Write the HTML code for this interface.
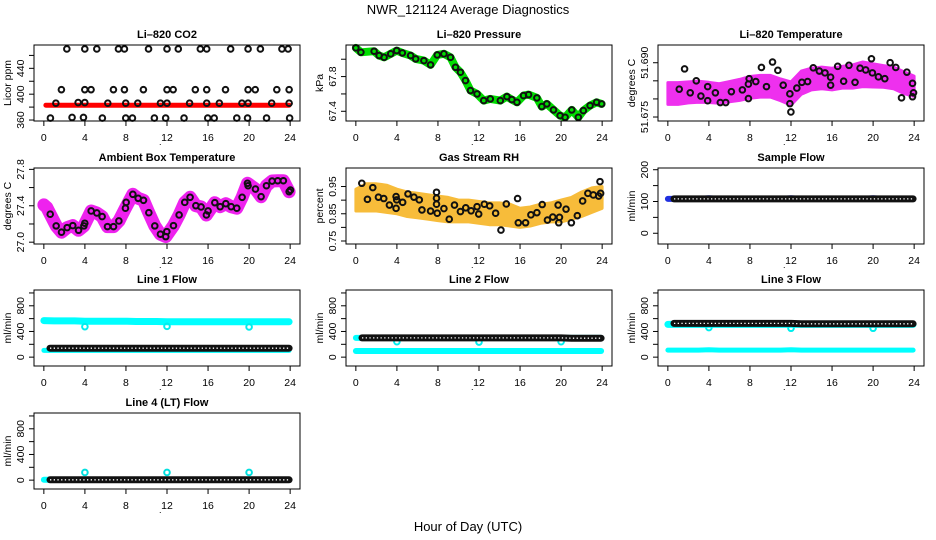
<!DOCTYPE html>
<html><head><meta charset="utf-8">
<style>
html,body{margin:0;padding:0;background:#fff;}
svg{display:block;font-family:"Liberation Sans",sans-serif;}
</style></head>
<body>
<svg id="chart" width="936" height="540" viewBox="0 0 936 540" xmlns="http://www.w3.org/2000/svg">
<text x="468" y="14" text-anchor="middle" font-size="13">NWR_121124  Average Diagnostics</text>
<text x="468" y="531" text-anchor="middle" font-size="13">Hour of Day (UTC)</text>
</svg>
<script>
// ---------- data ----------
const xTicks = [0,4,8,12,16,20,24];
// CO2
const co2Hours = [2.24,3.99,5.16,7.27,7.85,10.2,12.0,13.1,15.25,15.87,18.2,19.9,21.1,23.2,23.8,
 1.71,3.99,4.6,6.78,7.85,9.7,12.0,12.6,14.76,15.87,17.7,19.9,20.6,22.7,23.9,
 1.17,3.34,3.99,6.23,7.98,9.15,11.36,12.0,14.2,15.87,17.1,19.3,19.9,22.2,23.9,
 0.64,2.75,3.86,5.7,7.98,8.63,10.77,11.87,13.66,15.97,16.6,18.8,19.85,21.7,23.95];
const co2Vals = [470,470,470,470,470,470,470,470,470,470,470,470,470,470,470,
 407,407,407,407,407,407,407,407,407,407,407,407,407,407,407,
 386,387,387,386,386,386,386,386,386,386,386,386,386,386,386,
 363,364,364,363,363,363,363,363,363,363,363,363,363,363,363];
const co2BandHours = [0.2,2,4,6,8,10,12,14,16,18,20,22,23.9];
const co2BandVals = [383,383,383,383,383,383,383,383,383,383,383,383,383];
// Pressure
const presHours = [0,0.49,1.78,2.27,2.75,3.4,3.98,4.53,5.34,5.83,6.63,7.28,7.93,8.58,9.22,9.71,10.19,10.68,11.17,11.81,12.46,13.1,14.08,14.72,15.2,15.7,16.34,16.83,17.64,18.12,18.61,19.26,19.9,20.39,21.04,21.68,22.17,22.82,23.46,23.95];
const presVals = [68.131,68.080,68.092,68.042,68.022,68.062,68.100,68.073,68.042,68.004,67.984,67.935,68.050,68.062,68.022,67.907,67.850,67.754,67.639,67.600,67.523,67.543,67.523,67.569,67.535,67.504,67.581,67.592,67.554,67.454,67.485,67.416,67.350,67.331,67.416,67.331,67.408,67.466,67.504,67.485];
// Li-820 temperature
const ltHours = [1.63,1.11,2.18,2.77,3.22,3.88,3.88,4.63,5.11,5.64,6.19,7.26,7.85,7.85,7.92,8.57,9.12,9.61,10.2,10.72,11.24,11.89,11.89,11.99,12.57,13.06,13.62,14.17,14.76,15.31,15.86,15.86,16.55,17.13,17.65,18.24,18.73,19.28,19.84,19.93,20.52,21.14,21.66,22.21,22.77,23.29,23.84,23.94,23.84];
const ltVals = [51.6883,51.6827,51.6817,51.6850,51.6808,51.6795,51.6834,51.6817,51.6790,51.6790,51.6820,51.6825,51.6801,51.6841,51.6856,51.6848,51.6887,51.6834,51.6902,51.6879,51.6838,51.6814,51.6787,51.6764,51.6830,51.6846,51.6848,51.6886,51.6877,51.6872,51.6860,51.6838,51.6890,51.6849,51.6893,51.6846,51.6885,51.6880,51.6911,51.6872,51.6861,51.6856,51.6900,51.6887,51.6803,51.6874,51.6843,51.6817,51.6806];
const ltBandHours = [0,1,2,3,4,5,6,7,8,9,10,11,12,13,14,15,16,17,18,19,20,21,22,23,24];
const ltBandMid = [51.6815,51.6815,51.6818,51.6820,51.6818,51.6815,51.6820,51.6825,51.6832,51.6835,51.6835,51.6825,51.6815,51.6845,51.6855,51.6858,51.6855,51.6860,51.6862,51.6868,51.6865,51.6862,51.6858,51.6845,51.6835];
const ltBandHalf = [0.0030,0.0030,0.0029,0.0029,0.0028,0.0027,0.0028,0.0029,0.0030,0.0030,0.0030,0.0030,0.0032,0.0032,0.0030,0.0030,0.0030,0.0030,0.0032,0.0034,0.0032,0.0030,0.0030,0.0030,0.0028];
// Ambient box temperature
const abHours = [0.62,1.20,1.72,2.27,2.82,3.38,3.90,3.99,4.61,5.16,5.68,6.2,6.79,7.31,7.95,8.02,8.67,9.19,9.71,10.23,10.81,11.36,11.88,11.98,12.63,13.18,13.73,14.25,14.81,15.32,15.84,16.0,16.66,17.18,17.73,18.25,18.8,19.32,19.84,19.9,20.62,21.17,21.69,22.24,22.79,23.34,23.9,24.03];
const abVals = [27.307,27.179,27.110,27.160,27.182,27.131,27.179,27.208,27.343,27.321,27.281,27.171,27.171,27.233,27.373,27.438,27.526,27.482,27.460,27.324,27.179,27.088,27.061,27.116,27.182,27.299,27.438,27.493,27.401,27.387,27.299,27.343,27.434,27.390,27.423,27.390,27.373,27.493,27.647,27.620,27.584,27.500,27.620,27.672,27.675,27.675,27.555,27.573];
const abBandHours = [0,0.3,0.62,1.20,1.72,2.27,2.82,3.38,3.90,4.61,5.16,5.68,6.2,6.79,7.31,7.95,8.67,9.19,9.71,10.23,10.81,11.36,11.88,12.63,13.18,13.73,14.25,14.81,15.32,15.84,16.66,17.18,17.73,18.25,18.8,19.32,19.84,20.62,21.17,21.69,22.24,22.79,23.34,23.9];
const abBandVals = [27.41,27.38,27.307,27.179,27.110,27.160,27.182,27.131,27.179,27.343,27.321,27.281,27.171,27.171,27.233,27.373,27.526,27.482,27.460,27.324,27.179,27.088,27.061,27.182,27.299,27.438,27.493,27.401,27.387,27.299,27.434,27.390,27.423,27.390,27.373,27.493,27.647,27.584,27.500,27.620,27.672,27.675,27.675,27.555];
// Gas stream RH
const rhHours = [0.58,1.13,1.65,2.2,2.72,3.27,3.92,3.98,3.92,4.56,5.08,5.66,6.18,6.44,7.28,7.86,7.86,7.86,7.93,8.58,9.1,9.61,10.19,10.71,11.23,11.81,11.97,12.52,13.04,13.62,14.14,14.66,15.76,15.83,16.54,17.06,17.64,18.16,18.67,19.19,19.71,19.77,19.84,20.48,21.0,21.58,22.1,22.61,23.14,23.66,23.79,23.85];
const rhVals = [0.962,0.903,0.946,0.911,0.906,0.882,0.913,0.901,0.870,0.892,0.923,0.911,0.901,0.864,0.860,0.929,0.907,0.885,0.852,0.869,0.830,0.882,0.858,0.872,0.861,0.876,0.849,0.885,0.879,0.852,0.790,0.886,0.906,0.817,0.817,0.846,0.854,0.884,0.827,0.838,0.882,0.817,0.837,0.867,0.817,0.843,0.897,0.925,0.919,0.915,0.968,0.925];
const rhBandHours = [0,1,2,3,4,5,6,7,8,9,10,11,12,13,14,15,16,17,18,19,20,21,22,23,24];
const rhBandMid = [0.90,0.91,0.91,0.905,0.895,0.885,0.88,0.875,0.87,0.865,0.86,0.86,0.855,0.85,0.85,0.845,0.835,0.84,0.85,0.855,0.86,0.87,0.885,0.90,0.91];
const rhBandHalf = [0.04,0.05,0.05,0.05,0.045,0.045,0.045,0.045,0.045,0.045,0.04,0.04,0.04,0.04,0.04,0.04,0.035,0.035,0.035,0.035,0.04,0.04,0.045,0.045,0.04];
// Flows (hourly)
const flowHoursC = [0,1,2,3,4,5,6,7,8,9,10,11,12,13,14,15,16,17,18,19,20,21,22,23,23.9];
const flowHoursK = [0.6,1,2,3,4,5,6,7,8,9,10,11,12,13,14,15,16,17,18,19,20,21,22,23,23.9];
const sfBlue  = [108,108,108,108,110,108,108,108,108,108,108,108,110,108,108,108,108,108,108,108,110,108,108,108,108];
const sfBlack = [108,108,108,108,108,108,108,108,108,108,108,108,108,108,108,108,108,108,108,108,108,108,108,108,108];
const l1CyanHi = [570,565,565,565,560,560,560,560,560,555,555,555,550,550,550,550,550,550,550,550,550,550,550,550,550];
const l1CyanLo = [105,105,105,105,105,105,105,105,105,105,105,105,105,105,105,105,105,105,105,105,105,105,105,105,105];
const l1Black  = [140,140,140,140,140,140,140,140,140,140,140,140,140,140,140,140,140,140,140,140,140,140,140,140,140];
const l2CyanHi = [300,300,300,300,300,300,300,300,300,300,300,300,300,300,300,300,300,300,300,300,300,300,300,300,300];
const l2CyanLo = [95,95,95,95,95,95,95,95,95,95,95,95,95,95,95,95,95,95,95,95,95,95,95,95,95];
const l2Black  = [300,300,300,300,300,300,300,300,300,300,300,300,300,300,300,300,300,300,300,300,300,295,295,295,295];
const l3CyanHi = [510,510,510,510,510,510,510,510,510,510,510,510,510,510,510,510,510,510,510,510,510,510,510,510,510];
const l3CyanLo = [110,110,110,110,115,110,110,110,110,110,110,110,115,110,110,110,110,110,110,110,110,110,110,110,110];
const l3Black  = [525,525,525,525,525,525,525,525,525,525,525,525,525,520,520,520,520,520,520,520,520,520,520,520,520];
const l4Cyan   = [5,5,5,5,5,5,5,5,5,5,5,5,5,5,5,5,5,5,5,5,5,5,5,5,5];
const l4Black  = [5,5,5,5,5,5,5,5,5,5,5,5,5,5,5,5,5,5,5,5,5,5,5,5,5];
const dipHours = [4,12,20];
const l1Dips = [475,480,470];
const l2Dips = [240,235,240];
const l3Dips = [460,450,450];
const l4Spikes = [120,120,120];

// ---------- drawing ----------
const svg = document.getElementById('chart');
const NS = 'http://www.w3.org/2000/svg';
const colLeft = [34,346,658], rowTop = [45,168,290,413], BW = 266, BH = 76;
function mk(tag, attrs, parent){ const e=document.createElementNS(NS,tag); for(const k in attrs) e.setAttribute(k,attrs[k]); (parent||svg).appendChild(e); return e; }

function panel(cfg){
  const g = mk('g',{});
  
  
  const L=colLeft[cfg.col], T=rowTop[cfg.row], B=T+BH;
  const xs = h => L + BW*(h+0.96)/25.92;
  const ys = v => B - BH*(v-cfg.lo)/(cfg.hi-cfg.lo);
  const t = mk('text',{x:L+BW/2,y:T-7,'text-anchor':'middle','font-size':11,'font-weight':'bold'},g);
  t.textContent = cfg.title;
  
  
  const yl = mk('text',{x:L-23,y:T+BH/2,'text-anchor':'middle','font-size':10.5,transform:`rotate(-90 ${L-23} ${T+BH/2})`},g);
  yl.textContent = cfg.ylab;
  
  
  const plot = mk('g',{},g);
  
  
  cfg.draw(plot, xs, ys);
  const box = mk('rect',{x:L,y:T,width:BW,height:BH,fill:'none',stroke:'#000','stroke-width':1},g);
  
  
  xTicks.forEach(h=>{
    const x=xs(h);
    mk('line',{x1:x,y1:B,x2:x,y2:B+5,stroke:'#000'},g);
    const tl = mk('text',{x:x,y:B+20,'text-anchor':'middle','font-size':10.5},g);
    tl.textContent = h;
    
    
  });
  cfg.ticks.forEach(v=>{
    const y=ys(v);
    mk('line',{x1:L,y1:y,x2:L-5,y2:y,stroke:'#000'},g);
  });
  cfg.labels.forEach(v=>{
    const y=ys(v), x=L-10;
    const tl = mk('text',{x:x,y:y,'text-anchor':'middle','font-size':10.5,transform:`rotate(-90 ${x} ${y})`},g);
    tl.textContent = cfg.fmt ? cfg.fmt(v) : v;
    
    
  });
  const dot = mk('text',{x:L+BW*0.47,y:B+24,'font-size':9},g);
  dot.textContent='.';
}

function circles(p, xs, ys, hs, vs, stroke, fill, r, name){
  hs.forEach((h,i)=>{
    const c = mk('circle',{cx:xs(h),cy:ys(vs[i]),r:r||2.8,fill:fill||'none',stroke:stroke,'stroke-width':2},p);
    
    
  });
}
function line(p, xs, ys, hs, vs, color, w, name){
  const d = hs.map((h,i)=>(i?'L':'M')+xs(h).toFixed(1)+' '+ys(vs[i]).toFixed(1)).join(' ');
  const e = mk('path',{d:d,fill:'none',stroke:color,'stroke-width':w,'stroke-linecap':'round','stroke-linejoin':'round'},p);
  
  
  return e;
}
function band(p, xs, ys, hs, mid, half, color, name){
  const up = hs.map((h,i)=>xs(h).toFixed(1)+' '+ys(mid[i]+half[i]).toFixed(1));
  const dn = hs.map((h,i)=>xs(h).toFixed(1)+' '+ys(mid[i]-half[i]).toFixed(1)).reverse();
  const e = mk('path',{d:'M'+up.join(' L')+' L'+dn.join(' L')+' Z',fill:color,stroke:color,'stroke-width':3,'stroke-linejoin':'round'},p);
  
  
}
function chain(p, xs, ys, hs, vs, name){
  line(p,xs,ys,hs,vs,'#111',7,name);
  const e = line(p,xs,ys,hs,vs,'#fff',1.3,name+'-holes');
  e.setAttribute('stroke-dasharray','1.3 2.4');
  e.setAttribute('stroke-linecap','butt');
}

const flowCfg = {lo:-138,hi:1046,ticks:[0,200,400,600,800,1000],labels:[0,400,800],ylab:'ml/min'};

panel({name:'panel-co2',col:0,row:0,title:'Li\u2013820 CO2',ylab:'Licor ppm',lo:358.5,hi:476.1,ticks:[360,380,400,420,440,460],labels:[360,400,440],
  draw:(p,xs,ys)=>{ line(p,xs,ys,co2BandHours,co2BandVals,'#ff0000',5,'co2-red-series'); circles(p,xs,ys,co2Hours,co2Vals,'#111',null,2.8,'co2-point'); }});
panel({name:'panel-pressure',col:1,row:0,title:'Li\u2013820 Pressure',ylab:'kPa',lo:67.288,hi:68.164,ticks:[67.4,67.6,67.8,68.0],labels:[67.4,67.8],fmt:v=>v.toFixed(1),
  draw:(p,xs,ys)=>{ line(p,xs,ys,presHours,presVals,'#00dd00',8,'pressure-green-series'); circles(p,xs,ys,presHours,presVals,'#111',null,2.8,'pressure-point'); }});
panel({name:'panel-li820-temp',col:2,row:0,title:'Li\u2013820 Temperature',ylab:'degrees C',lo:51.6739,hi:51.6949,ticks:[51.675,51.680,51.685,51.690],labels:[51.675,51.690],fmt:v=>v.toFixed(3),
  draw:(p,xs,ys)=>{ band(p,xs,ys,ltBandHours,ltBandMid,ltBandHalf,'#ee30ee','li820-temp-magenta-band'); circles(p,xs,ys,ltHours,ltVals,'#111',null,2.8,'li820-temp-point'); }});
panel({name:'panel-ambient-temp',col:0,row:1,title:'Ambient Box Temperature',ylab:'degrees C',lo:26.98,hi:27.815,ticks:[27.0,27.2,27.4,27.6,27.8],labels:[27.0,27.4,27.8],fmt:v=>v.toFixed(1),
  draw:(p,xs,ys)=>{ line(p,xs,ys,abBandHours,abBandVals,'#ee22ee',13,'ambient-magenta-series'); circles(p,xs,ys,abHours,abVals,'#111',null,2.8,'ambient-point'); }});
panel({name:'panel-rh',col:1,row:1,title:'Gas Stream RH',ylab:'percent',lo:0.739,hi:1.018,ticks:[0.75,0.80,0.85,0.90,0.95],labels:[0.75,0.85,0.95],fmt:v=>v.toFixed(2),
  draw:(p,xs,ys)=>{ band(p,xs,ys,rhBandHours,rhBandMid,rhBandHalf,'#f7bc3a','rh-orange-band'); circles(p,xs,ys,rhHours,rhVals,'#111',null,2.8,'rh-point'); }});
panel({name:'panel-sample-flow',col:2,row:1,title:'Sample Flow',ylab:'ml/min',lo:-33.8,hi:205.4,ticks:[0,50,100,150,200],labels:[0,100,200],
  draw:(p,xs,ys)=>{ line(p,xs,ys,flowHoursC,sfBlue,'#2030e0',6,'sample-flow-blue'); chain(p,xs,ys,flowHoursK,sfBlack,'sample-flow-black'); }});
panel(Object.assign({name:'panel-line1-flow',col:0,row:2,title:'Line 1 Flow',
  draw:(p,xs,ys)=>{ line(p,xs,ys,flowHoursC,l1CyanHi,'#00ffff',7,'line1-cyan-high'); line(p,xs,ys,flowHoursC,l1CyanLo,'#00ffff',5,'line1-cyan-low'); circles(p,xs,ys,dipHours,l1Dips,'#00eeee',null,2.8,'line1-dip'); chain(p,xs,ys,flowHoursK,l1Black,'line1-black'); }},flowCfg));
panel(Object.assign({name:'panel-line2-flow',col:1,row:2,title:'Line 2 Flow',
  draw:(p,xs,ys)=>{ line(p,xs,ys,flowHoursC,l2CyanHi,'#00ffff',6,'line2-cyan-high'); line(p,xs,ys,flowHoursC,l2CyanLo,'#00ffff',6,'line2-cyan-low'); circles(p,xs,ys,dipHours,l2Dips,'#00eeee',null,2.8,'line2-dip'); chain(p,xs,ys,flowHoursK,l2Black,'line2-black'); }},flowCfg));
panel(Object.assign({name:'panel-line3-flow',col:2,row:2,title:'Line 3 Flow',
  draw:(p,xs,ys)=>{ line(p,xs,ys,flowHoursC,l3CyanHi,'#00ffff',7,'line3-cyan-high'); line(p,xs,ys,flowHoursC,l3CyanLo,'#00ffff',5,'line3-cyan-low'); circles(p,xs,ys,dipHours,l3Dips,'#00eeee',null,2.8,'line3-dip'); chain(p,xs,ys,flowHoursK,l3Black,'line3-black'); }},flowCfg));
panel(Object.assign({name:'panel-line4-flow',col:0,row:3,title:'Line 4 (LT) Flow',
  draw:(p,xs,ys)=>{ line(p,xs,ys,flowHoursC,l4Cyan,'#00ffff',6,'line4-cyan'); circles(p,xs,ys,dipHours,l4Spikes,'#00e0e0',null,2.8,'line4-spike'); chain(p,xs,ys,flowHoursK,l4Black,'line4-black'); }},flowCfg));
</script>
</body></html>
